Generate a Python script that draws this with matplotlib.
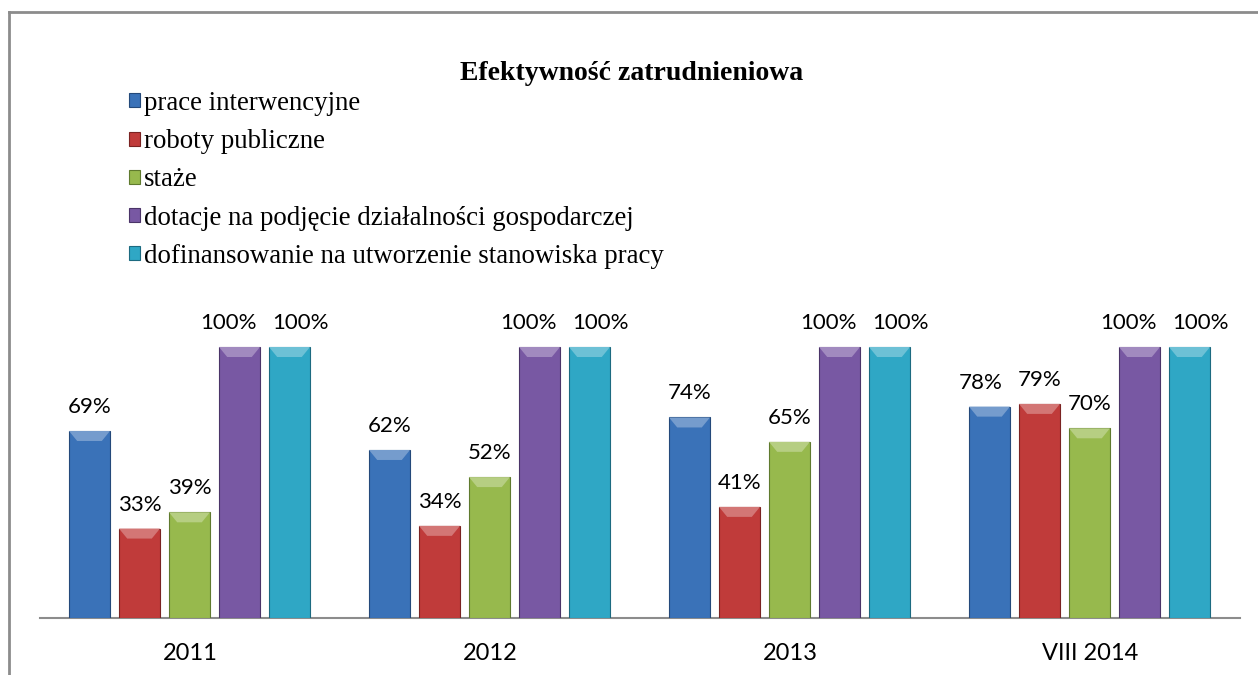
import matplotlib
matplotlib.use("Agg")
import matplotlib.pyplot as plt
from matplotlib.lines import Line2D
from matplotlib.patches import Polygon
import matplotlib.colors as mcolors
import numpy as np

categories = ["2011", "2012", "2013", "VIII 2014"]
series_names = [
    "prace interwencyjne",
    "roboty publiczne",
    "staże",
    "dotacje na podjęcie działalności gospodarczej",
    "dofinansowanie na utworzenie stanowiska pracy",
]
values = {
    "prace interwencyjne": [0.69, 0.62, 0.74, 0.78],
    "roboty publiczne": [0.33, 0.34, 0.41, 0.79],
    "staże": [0.39, 0.52, 0.65, 0.70],
    "dotacje na podjęcie działalności gospodarczej": [1.00, 1.00, 1.00, 1.00],
    "dofinansowanie na utworzenie stanowiska pracy": [1.00, 1.00, 1.00, 1.00],
}
colors = ["#3A72B8", "#C03B3A", "#97B94D", "#7858A3", "#2FA7C5"]
edges = ["#24497A", "#7A2322", "#5F7A2E", "#4A3468", "#1C6A80"]

# horizontal nudges (points) for labels that would collide, as in the original
label_nudge = {(3, 0): -8, (4, 0): 8, (3, 1): -8, (4, 1): 8,
               (3, 2): -8, (4, 2): 8, (3, 3): -8, (4, 3): 8, (0, 3): -6}


def lighten(c, f):
    r, g, b = mcolors.to_rgb(c)
    return (r + (1 - r) * f, g + (1 - g) * f, b + (1 - b) * f)


W, H = 1258, 675
fig = plt.figure(figsize=(W / 100, H / 100), dpi=100)
fig.patch.set_facecolor("white")

base_px = 618
unit_px = 271
ymax = 1.2
ax_h = ymax * unit_px
ax = fig.add_axes([40 / W, (H - base_px) / H, 1200 / W, ax_h / H])
ax.set_xlim(0, len(categories))
ax.set_ylim(0, ymax)

pitch = 50 / 300
bw = 41 / 300
start = 29 / 300
x = np.arange(len(categories))
handles = []
for i, name in enumerate(series_names):
    xs = x + start + i * pitch + bw / 2
    b = ax.bar(xs, values[name], width=bw, color=colors[i], edgecolor=edges[i],
               linewidth=0.8, label=name, zorder=3)
    handles.append(b)
    for rect in b:
        x0 = rect.get_x()
        x1 = x0 + rect.get_width()
        top = rect.get_height()
        d = rect.get_width() * 0.2
        dh = 10 / unit_px
        ax.add_patch(Polygon([(x0, top), (x1, top), (x1 - d, top - dh), (x0 + d, top - dh)],
                             closed=True, facecolor=lighten(colors[i], 0.3),
                             edgecolor="none", zorder=4))
    for j, (xi, v) in enumerate(zip(xs, values[name])):
        dx = label_nudge.get((i, j), 0)
        ax.annotate(f"{round(v * 100)}%", (xi, v), xytext=(dx, 13), textcoords="offset points",
                    ha="center", va="baseline", fontsize=16, family="Lato", color="black")

ax.set_xticks(x + 0.5)
ax.set_xticklabels(categories, fontsize=17, family="Lato")
ax.tick_params(axis="x", length=0, pad=18)
ax.set_yticks([])
for s in ["top", "right", "left"]:
    ax.spines[s].set_visible(False)
ax.spines["bottom"].set_color("#8C8C8C")
ax.spines["bottom"].set_linewidth(1.5)
ax.patch.set_alpha(0)

fig.text(632 / W, 1 - 73 / H, "Efektywność zatrudnieniowa", ha="center", va="center",
         fontsize=20, fontweight="bold", family="Liberation Serif")

leg = fig.legend(handles=handles, labels=series_names, loc="upper left",
                 bbox_to_anchor=(129 / W, 1 - 91 / H), frameon=False,
                 prop={"family": "Liberation Serif", "size": 19.4},
                 handlelength=0.42, handleheight=0.42, handletextpad=0.12,
                 labelspacing=0.49, borderaxespad=0, borderpad=0)

fig.add_artist(Line2D([8.5 / W, 8.5 / W], [0, 1 - 12 / H], transform=fig.transFigure,
                      color="#8C8C8C", linewidth=2))
fig.add_artist(Line2D([8.5 / W, 1], [1 - 12 / H, 1 - 12 / H], transform=fig.transFigure,
                      color="#8C8C8C", linewidth=2))

fig.savefig("out.png", dpi=100, facecolor="white")
